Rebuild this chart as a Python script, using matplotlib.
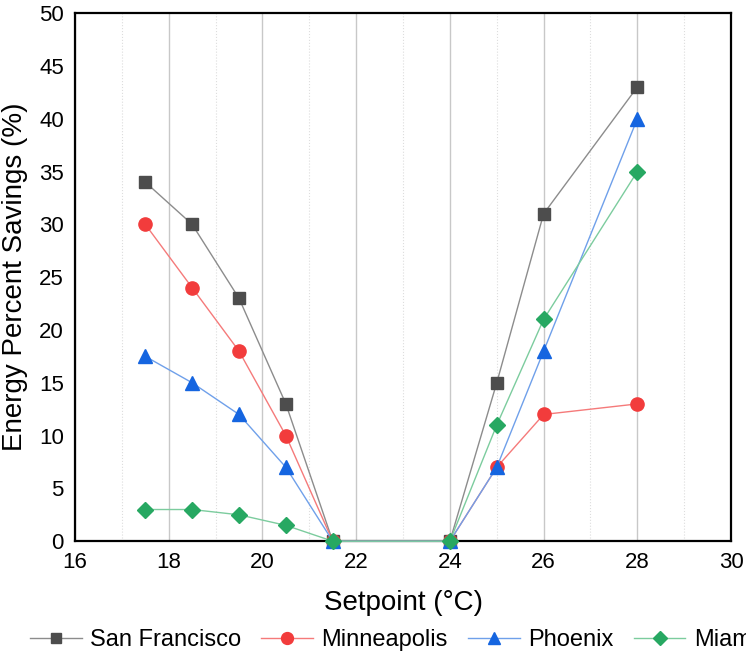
import matplotlib.pyplot as plt
from matplotlib.ticker import MultipleLocator

plt.rcParams['font.family'] = ['Liberation Sans', 'DejaVu Sans']

setpoints = [17.5, 18.5, 19.5, 20.5, 21.5, 24, 25, 26, 28]
san_francisco = [34, 30, 23, 13, 0, 0, 15, 31, 43]
minneapolis = [30, 24, 18, 10, 0, 0, 7, 12, 13]
phoenix = [17.5, 15, 12, 7, 0, 0, 7, 18, 40]
miami = [3, 3, 2.5, 1.5, 0, 0, 11, 21, 35]

series = [
    ("San Francisco", san_francisco, 's', '#4d4d4d', '#8c8c8c', 8),
    ("Minneapolis", minneapolis, 'o', '#f23c3c', '#f57a7a', 9.5),
    ("Phoenix", phoenix, '^', '#1565e0', '#6fa0ea', 10),
    ("Miami", miami, 'D', '#27a862', '#7ccc9e', 8),
]

fig = plt.figure(figsize=(7.46, 6.56), dpi=100)
ax = fig.add_axes([0.1005, 0.175, 0.8795, 0.805])

for name, vals, mk, mc, lc, ms in series:
    ax.plot(setpoints, vals, color=lc, lw=1.0, marker=mk, markersize=ms,
            markerfacecolor=mc, markeredgecolor=mc, label=name,
            clip_on=False, zorder=3)

ax.set_xlim(16, 30)
ax.set_ylim(0, 50)
ax.xaxis.set_major_locator(MultipleLocator(2))
ax.xaxis.set_minor_locator(MultipleLocator(1))
ax.yaxis.set_major_locator(MultipleLocator(5))
ax.grid(axis='x', which='major', color='#c8c8c8', lw=1.0)
ax.grid(axis='x', which='minor', color='#dddddd', lw=0.8, ls=':')
ax.set_axisbelow(True)

for s in ax.spines.values():
    s.set_linewidth(1.6)
    s.set_color('black')

ax.tick_params(which='both', length=0, labelsize=16, pad=8)
ax.set_xlabel("Setpoint (°C)", fontsize=20, labelpad=12)
ax.set_ylabel("Energy Percent Savings (%)", fontsize=20, labelpad=8)

fig.legend(loc='center left', bbox_to_anchor=(0.04, 0.024), ncol=4,
           frameon=False, fontsize=17, handlelength=2.2, columnspacing=0.85,
           handletextpad=0.35, borderaxespad=0, borderpad=0, markerscale=0.9)

fig.savefig("out.png", dpi=100)
